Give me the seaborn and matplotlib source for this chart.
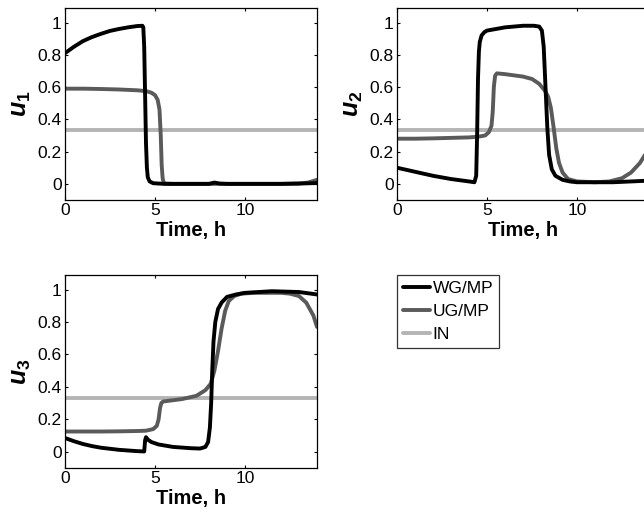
import numpy as np
import pandas as pd
import matplotlib
matplotlib.use("Agg")
import matplotlib.pyplot as plt
import seaborn as sns

# ---------------- data ----------------
series_names = ["WG/MP", "UG/MP", "IN"]
ylabels = [r"$u_1$", r"$u_2$", r"$u_3$"]
xticks = [0, 5, 10]
yticks = [0, 0.2, 0.4, 0.6, 0.8, 1]
yticklabels = ["0", "0.2", "0.4", "0.6", "0.8", "1"]

t_u1_wg = [0, 0.5, 1, 1.5, 2, 2.5, 3, 3.5, 4, 4.3, 4.35, 4.4, 4.45, 4.5, 4.55, 4.6, 4.7, 4.9, 5.5, 7, 8, 8.3, 8.6, 9, 12, 13, 14]
u1_wg = [0.81, 0.85, 0.885, 0.91, 0.93, 0.948, 0.96, 0.97, 0.978, 0.98, 0.97, 0.85, 0.55, 0.25, 0.1, 0.04, 0.015, 0.004, 0, 0, 0, 0.008, 0.002, 0, 0, 0.002, 0.005]
t_u1_ug = [0, 1, 2, 3, 4, 4.5, 4.8, 5.0, 5.15, 5.25, 5.32, 5.37, 5.42, 5.47, 5.55, 6, 8, 10, 12, 13, 13.5, 14]
u1_ug = [0.59, 0.59, 0.588, 0.585, 0.58, 0.575, 0.565, 0.55, 0.52, 0.46, 0.3, 0.12, 0.04, 0.01, 0.002, 0, 0, 0, 0, 0.002, 0.008, 0.025]

t_u2_wg = [0, 1, 2, 3, 4, 4.3, 4.4, 4.45, 4.5, 4.55, 4.6, 4.7, 4.85, 5, 6, 7, 7.6, 7.9, 8.05, 8.15, 8.25, 8.35, 8.45, 8.6, 8.8, 9.2, 9.6, 10, 12, 14]
u2_wg = [0.1, 0.075, 0.05, 0.03, 0.015, 0.01, 0.05, 0.3, 0.65, 0.82, 0.88, 0.92, 0.94, 0.95, 0.97, 0.98, 0.98, 0.975, 0.95, 0.85, 0.6, 0.35, 0.18, 0.09, 0.05, 0.025, 0.015, 0.01, 0.01, 0.02]
t_u2_ug = [0, 1, 2, 3, 4, 4.5, 4.9, 5.1, 5.25, 5.32, 5.38, 5.45, 5.55, 6, 7, 7.5, 7.9, 8.2, 8.4, 8.55, 8.7, 8.85, 9.0, 9.2, 9.5, 10, 11, 11.8, 12.5, 13, 13.5, 14]
u2_ug = [0.28, 0.28, 0.282, 0.285, 0.288, 0.292, 0.3, 0.32, 0.36, 0.45, 0.6, 0.67, 0.685, 0.68, 0.665, 0.65, 0.62, 0.58, 0.54, 0.47, 0.35, 0.22, 0.13, 0.07, 0.03, 0.015, 0.01, 0.015, 0.035, 0.07, 0.13, 0.22]

t_u3_wg = [0, 0.5, 1, 1.5, 2, 3, 4, 4.4, 4.45, 4.5, 4.6, 4.8, 5.2, 6, 7, 7.5, 7.8, 7.95, 8.05, 8.12, 8.18, 8.25, 8.35, 8.5, 8.7, 9, 9.5, 10, 11.5, 13, 14]
u3_wg = [0.085, 0.065, 0.048, 0.035, 0.025, 0.012, 0.004, 0.002, 0.07, 0.09, 0.075, 0.06, 0.045, 0.03, 0.022, 0.02, 0.03, 0.06, 0.15, 0.3, 0.5, 0.68, 0.8, 0.88, 0.92, 0.955, 0.97, 0.98, 0.99, 0.985, 0.97]
t_u3_ug = [0, 1, 2, 3, 4, 4.5, 4.9, 5.1, 5.2, 5.28, 5.35, 5.45, 5.8, 6.5, 7.3, 7.8, 8.1, 8.3, 8.5, 8.7, 8.9, 9.1, 9.4, 9.8, 10.5, 12, 12.5, 13, 13.4, 13.8, 14]
u3_ug = [0.125, 0.125, 0.125, 0.126, 0.128, 0.13, 0.14, 0.16, 0.2, 0.27, 0.3, 0.31, 0.315, 0.325, 0.345, 0.38, 0.42, 0.5, 0.62, 0.76, 0.87, 0.93, 0.96, 0.975, 0.98, 0.98, 0.975, 0.96, 0.92, 0.84, 0.77]

t_in = [0, 14]
u_in = [0.333, 0.333]

colors = ["#000000", "#5a5a5a", "#b4b4b4"]

# ---------------- style ----------------
sns.set_style("white")
plt.rcParams["font.family"] = ["Liberation Sans", "DejaVu Sans"]
plt.rcParams["mathtext.fontset"] = "custom"
plt.rcParams["mathtext.it"] = "Liberation Sans:italic:bold"
plt.rcParams["mathtext.rm"] = "Liberation Sans:bold"
plt.rcParams["mathtext.bf"] = "Liberation Sans:bold"
plt.rcParams["text.color"] = "black"
plt.rcParams["axes.labelcolor"] = "black"

W, H = 644, 513
fig = plt.figure(figsize=(W / 100, H / 100), dpi=100)

def ax_at(l, r, t, b):
    return fig.add_axes([l / W, 1 - b / H, (r - l) / W, (b - t) / H])

axes = [ax_at(65, 317, 8, 200), ax_at(397, 649, 8, 200), ax_at(65, 317, 275, 468)]

data = [
    [(t_u1_wg, u1_wg), (t_u1_ug, u1_ug), (t_in, u_in)],
    [(t_u2_wg, u2_wg), (t_u2_ug, u2_ug), (t_in, u_in)],
    [(t_u3_wg, u3_wg), (t_u3_ug, u3_ug), (t_in, u_in)],
]

for ax, series, ylab in zip(axes, data, ylabels):
    for (tt, vv), name, c in zip(series[::-1], series_names[::-1], colors[::-1]):
        df = pd.DataFrame({"t": tt, "v": vv})
        sns.lineplot(data=df, x="t", y="v", ax=ax, color=c, lw=2.8, label=name, sort=False)
    ax.set_xlim(0, 14)
    ax.set_ylim(-0.1, 1.09)
    ax.set_xticks(xticks)
    ax.set_yticks(yticks)
    ax.set_yticklabels(yticklabels)
    ax.tick_params(direction="in", length=2.5, width=0.8, labelsize=12.5,
                   bottom=True, left=True, top=True, right=True,
                   color="black", labelcolor="black", pad=2.5)
    for s in ax.spines.values():
        s.set_color("black")
        s.set_linewidth(0.9)
    ax.set_xlabel("Time, h", fontsize=14.5, fontweight="bold", labelpad=1.5)
    ax.set_ylabel(ylab, fontsize=18, labelpad=3)
    ax.get_legend().remove()

handles, labels = axes[0].get_legend_handles_labels()
order = [labels.index(n) for n in series_names]
leg = fig.legend([handles[i] for i in order], series_names, loc="upper left",
                 bbox_to_anchor=(397 / W, 1 - 275 / H), frameon=True, fancybox=False,
                 fontsize=12.5, handlelength=1.55, handletextpad=0.15, borderpad=0.35,
                 labelspacing=0.45, borderaxespad=0)
leg.get_frame().set_edgecolor("black")
leg.get_frame().set_linewidth(0.9)

fig.savefig("out.png", dpi=100)
